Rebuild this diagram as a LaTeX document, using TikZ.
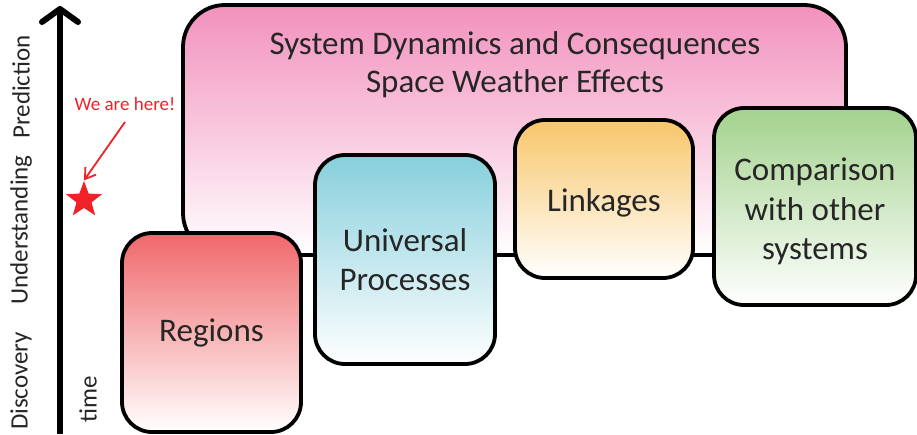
\documentclass[tikz,border=0pt]{standalone}
\usepackage{fontspec}
\setmainfont{Carlito}
\usetikzlibrary{arrows.meta,shapes.geometric}
\definecolor{textGray}{HTML}{262626}
\definecolor{dynPink}{HTML}{F291BD}
\definecolor{regionRed}{HTML}{F0676A}
\definecolor{processBlue}{HTML}{86CFDC}
\definecolor{linkOrange}{HTML}{F8C66A}
\definecolor{compGreen}{HTML}{A3D28D}
\definecolor{hereRed}{HTML}{EE2227}
\tikzset{
  stage/.style={rectangle, rounded corners=30pt, draw=black, line width=3.8pt, align=center, inner sep=0pt, text=textGray, font=\fontsize{33}{39.5}\selectfont},
  title/.style={align=center, text=textGray, font=\fontsize{33}{38}\selectfont},
  axisLabel/.style={rotate=90, text=textGray, font=\fontsize{25}{30}\selectfont},
  hereNote/.style={text=hereRed, font=\fontsize{19}{22}\selectfont},
  timeArrow/.style={line width=6pt, -{Straight Barb[length=13pt,width=36pt,line width=6pt,round]}},
  pointer/.style={draw=hereRed, line width=1.8pt, -{Straight Barb[length=10pt,width=13pt,line width=1.8pt]}}
}
\begin{document}
\begin{tikzpicture}[x=1pt,y=-1pt]
\useasboundingbox (0,0) rectangle (917,434);

% time axis
\coordinate (tBottom) at (60,434);
\coordinate (tTop) at (60,6);
\draw[timeArrow] (tBottom) -- (tTop);
\node[axisLabel] (lDisc) at (21,381) {Discovery};
\node[axisLabel] (lUnder) at (21,230) {Understanding};
\node[axisLabel] (lPred) at (21,87) {Prediction};
\node[axisLabel] (lTime) at (88,399) {time};

% we are here
\node[star, star points=5, star point ratio=2.4, fill=hereRed, minimum size=38pt, inner sep=0pt] (here) at (84,200) {};
\node[hereNote] (hereText) at (125,104) {We are here!};
\coordinate (hereStart) at (125,122);
\draw[pointer] (hereStart) -- (here.north);

% big box
\node[stage, rounded corners=42pt, top color=dynPink, bottom color=white, minimum width=663pt, minimum height=250pt] (dyn) at (514.5,130) {};
\node[title] (dynTitle) at (515,65) {System Dynamics and Consequences\\Space Weather Effects};

% stage boxes
\node[stage, top color=regionRed, bottom color=white, minimum width=179pt, minimum height=199pt] (regions) at (211.5,332.5) {Regions};
\node[stage, top color=processBlue, bottom color=white, minimum width=180pt, minimum height=209pt] (processes) at (405,259.5) {Universal\\Processes};
\node[stage, text height=30pt, top color=linkOrange, bottom color=white, minimum width=178pt, minimum height=158pt] (linkages) at (604,199) {Linkages};
\node[stage, text height=112pt, top color=compGreen, bottom color=white, minimum width=202pt, minimum height=197pt] (comparison) at (815,206.5) {Comparison\\with other\\systems};

\end{tikzpicture}
\end{document}
